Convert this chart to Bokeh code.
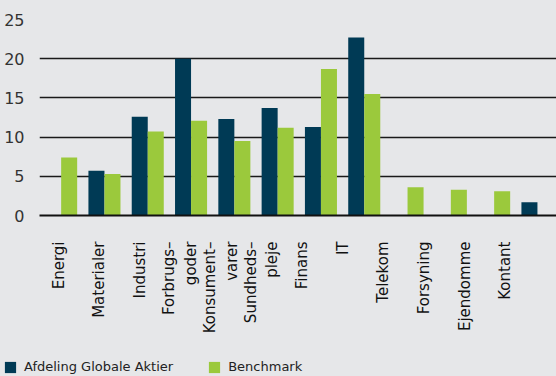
import math
import numpy as np
from bokeh.plotting import figure
from bokeh.layouts import column, row
from bokeh.models import Range1d, LinearAxis, FixedTicker, Legend, LegendItem, ColumnDataSource
from bokeh.embed import file_html
from bokeh.resources import INLINE

categories = ["Energi", "Materialer", "Industri", "Forbrugs–\ngoder", "Konsument–\nvarer",
              "Sundheds–\npleje", "Finans", "IT", "Telekom", "Forsyning", "Ejendomme", "Kontant"]
fund = [0, 5.7, 12.6, 20.0, 12.3, 13.7, 11.3, 22.7, 0, 0, 0, 1.7]
benchmark = [7.4, 5.3, 10.7, 12.1, 9.5, 11.2, 18.7, 15.5, 3.6, 3.3, 3.1, 0]
y_ticks = [0, 5, 10, 15, 20, 25]
series_names = ["Afdeling Globale Aktier", "Benchmark"]

BG = "#E6E7E9"
DARK = "#003A55"
GREEN = "#9BC93C"
FONT = "DejaVu Sans"

idx = np.arange(len(categories))
bw = 0.37
src = ColumnDataSource(dict(xf=idx - bw / 2, xb=idx + bw / 2, fund=fund, bench=benchmark))

p = figure(width=556, height=352, output_backend="svg", toolbar_location=None,
           x_range=Range1d(-0.5, 11.44), y_range=Range1d(0, 25),
           x_axis_location=None,
           min_border_left=39, min_border_right=0, min_border_top=19, min_border_bottom=137)
p.background_fill_color = BG
p.border_fill_color = BG
p.outline_line_color = None

rf = p.vbar(x="xf", top="fund", width=bw, source=src, fill_color=DARK, line_color=None)
rb = p.vbar(x="xb", top="bench", width=bw, source=src, fill_color=GREEN, line_color=None)

# y axis
ya = p.yaxis[0]
ya.ticker = FixedTicker(ticks=y_ticks)
ya.axis_line_color = None
ya.major_tick_line_color = None
ya.minor_tick_line_color = None
ya.major_label_text_font = FONT
ya.major_label_text_font_size = "16px"
ya.major_label_text_color = "#333333"
ya.major_label_standoff = 9

p.xgrid.visible = False
p.ygrid.ticker = FixedTicker(ticks=y_ticks)
p.ygrid.grid_line_color = "#1a1a1a"
p.ygrid.grid_line_width = 1.3

# category label axis
p.extra_x_ranges = {"lab": Range1d(-0.468, 12.266)}
lab = LinearAxis(x_range_name="lab", ticker=FixedTicker(ticks=list(range(len(categories)))),
                 major_label_overrides={i: c for i, c in enumerate(categories)},
                 major_label_orientation=math.pi / 2)
lab.axis_line_color = "#111111"
lab.axis_line_width = 2
lab.major_tick_line_color = None
lab.minor_tick_line_color = None
lab.major_label_text_font = FONT
lab.major_label_text_font_size = "15px"
lab.major_label_text_color = "#111111"
lab.major_label_standoff = 20
p.add_layout(lab, "below")

# legend strip: hidden copies of the bar renderers serve only as legend swatches
p2 = figure(width=556, height=24, output_backend="svg", toolbar_location=None,
            x_range=Range1d(-0.5, 11.44), y_range=Range1d(0, 25),
            x_axis_location=None, y_axis_location=None,
            min_border_left=0, min_border_right=0, min_border_top=0, min_border_bottom=0)
p2.background_fill_color = BG
p2.border_fill_color = BG
p2.outline_line_color = None
p2.grid.visible = False
lf = p2.vbar(x="xf", top="fund", width=bw, source=src, fill_color=DARK, line_color=None, visible=False)
lb = p2.vbar(x="xb", top="bench", width=bw, source=src, fill_color=GREEN, line_color=None, visible=False)

legend = Legend(items=[LegendItem(label=series_names[0], renderers=[lf]),
                       LegendItem(label=series_names[1], renderers=[lb])],
                orientation="horizontal", location=(3, 2),
                glyph_width=14, glyph_height=14, label_height=14, label_standoff=7, spacing=34,
                padding=0, margin=0, background_fill_alpha=0, border_line_color=None,
                label_text_font=FONT, label_text_font_size="13px", label_text_color="#222222")
p2.add_layout(legend, "center")

strip = row(p2, styles={"background-color": BG})
layout = column(p, strip, spacing=0, styles={"background-color": BG})
open("out.html", "w").write(file_html(layout, INLINE))
